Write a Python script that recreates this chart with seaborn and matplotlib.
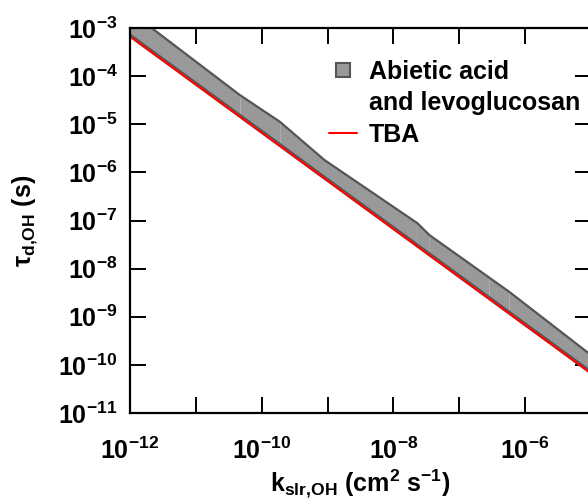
import numpy as np
import matplotlib
matplotlib.use('Agg')
import matplotlib.pyplot as plt
import seaborn as sns
from matplotlib.lines import Line2D

# values (k in cm2 s-1, tau in s)
k_band = [1e-12, 4.65e-11, 1.88e-10, 9.0e-10, 2.31e-8, 3.51e-8, 2.85e-7, 5.73e-7, 1e-5]
tau_upper = [2.2e-3, 4.05e-5, 1.13e-5, 1.80e-6, 8.8e-8, 5.0e-8, 6.5e-9, 3.3e-9, 1.6e-10]
tau_lower = [7.3e-4, 1.57e-5, 3.9e-6, 8.1e-7, 3.16e-8, 2.08e-8, 2.56e-9, 1.27e-9, 7.3e-11]

k_tba = [1e-12, 1e-5]
tau_tba = [6.6e-4, 6.6e-11]

x_ticks = [1e-12, 1e-11, 1e-10, 1e-9, 1e-8, 1e-7, 1e-6, 1e-5]
x_labels = ['$10^{-12}$', '', '$10^{-10}$', '', '$10^{-8}$', '', '$10^{-6}$', '']
y_ticks = [1e-11, 1e-10, 1e-9, 1e-8, 1e-7, 1e-6, 1e-5, 1e-4, 1e-3]
y_labels = ['$10^{-%d}$' % i for i in range(11, 2, -1)]

sns.set_theme(style='ticks')
plt.rcParams['font.family'] = ['Liberation Sans', 'DejaVu Sans']
plt.rcParams['font.weight'] = 'bold'
plt.rcParams['text.color'] = 'black'
plt.rcParams['axes.labelcolor'] = 'black'
plt.rcParams['mathtext.fontset'] = 'custom'
plt.rcParams['mathtext.rm'] = 'Liberation Sans:bold'
plt.rcParams['mathtext.it'] = 'Liberation Sans:bold'
plt.rcParams['mathtext.bf'] = 'Liberation Sans:bold'
plt.rcParams['mathtext.default'] = 'rm'

band_fill = '#999999'
band_edge = '#555555'

fig = plt.figure(figsize=(5.88, 5.04), dpi=100)
# axes runs slightly past the right edge of the canvas, as in the reference
ax = fig.add_axes([130 / 588, 91 / 504, 461 / 588, 385 / 504])

# fill the band piece by piece (leaves the faint seams seen in the original)
for i in range(len(k_band) - 1):
    ax.fill_between(k_band[i:i + 2], tau_lower[i:i + 2], tau_upper[i:i + 2],
                    color=band_fill, lw=0)
ax.plot(k_band, tau_upper, color=band_edge, lw=1.6)
ax.plot(k_band, tau_lower, color=band_edge, lw=1.6)

sns.lineplot(x=k_tba, y=tau_tba, color='red', lw=1.5, ax=ax)

ax.set_xscale('log')
ax.set_yscale('log')
ax.set_xlim(1e-12, 1e-5)
ax.set_ylim(1e-11, 1e-3)
ax.set_xticks(x_ticks)
ax.set_xticklabels(x_labels)
ax.set_yticks(y_ticks)
ax.set_yticklabels(y_labels)
ax.minorticks_off()
ax.tick_params(which='major', direction='in', length=11.5, width=1.4,
               top=True, right=True, labelsize=18, colors='black')
ax.tick_params(axis='x', pad=18)
ax.tick_params(axis='y', pad=9)
for sp in ax.spines.values():
    sp.set_linewidth(1.6)
    sp.set_color('black')

ax.set_xlabel(r'$k_{slr{,}OH}$ $(cm^2$ $s^{-1})$', fontsize=18, labelpad=2)
ax.set_ylabel(r'$\tau_{d{,}OH}$ $(s)$', fontsize=18, labelpad=13)

handles = [
    Line2D([], [], marker='s', markersize=9.5, mfc=band_fill, mec=band_edge,
           mew=1.5, linestyle='none'),
    Line2D([], [], linestyle='none'),
    Line2D([], [], color='red', lw=1.5),
]
labels = ['Abietic acid', 'and levoglucosan', 'TBA']
ax.legend(handles, labels, loc='upper left', bbox_to_anchor=(0.432, 0.918),
          frameon=False, fontsize=18, handlelength=1.1, handletextpad=0.5,
          labelspacing=0.3, borderpad=0, borderaxespad=0)

fig.savefig('out.png', dpi=100)
